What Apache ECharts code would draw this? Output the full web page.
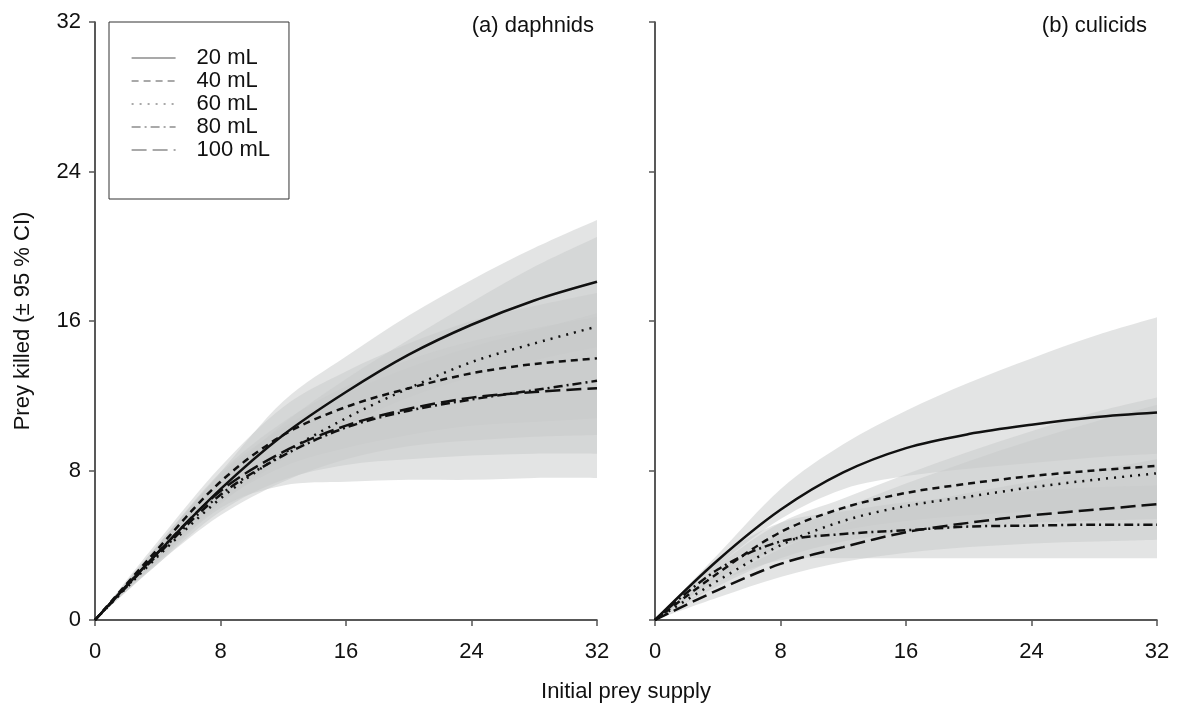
<!DOCTYPE html>
<html><head><meta charset="utf-8">
<script src="https://cdn.jsdelivr.net/npm/echarts/dist/echarts.min.js"></script>
<style>html,body{margin:0;padding:0;background:#fff}#c{width:1180px;height:711px}</style>
</head><body><div id="c"></div>
<script>
// ---- data ----
const xs = [0, 4, 8, 12, 16, 20, 24, 28, 32];
const names = ['20 mL', '40 mL', '60 mL', '80 mL', '100 mL'];
const xTicks = [0, 8, 16, 24, 32];

// (a) daphnids – fitted curves
const a20  = [0, 3.6, 7.0, 9.9, 12.2, 14.2, 15.8, 17.1, 18.1];
const a40  = [0, 3.8, 7.4, 9.9, 11.4, 12.4, 13.2, 13.7, 14.0];
const a60  = [0, 3.4, 6.5, 8.9, 10.8, 12.4, 13.8, 14.8, 15.7];
const a80  = [0, 3.5, 6.7, 8.8, 10.3, 11.2, 11.8, 12.3, 12.8];
const a100 = [0, 3.6, 6.9, 9.0, 10.4, 11.3, 11.9, 12.2, 12.4];
// (a) 95 % CI
const a20lo  = [0, 3.2, 6.2, 8.6, 10.4, 11.9, 13.0, 13.9, 14.6];
const a20hi  = [0, 4.0, 7.9, 11.7, 14.1, 16.3, 18.2, 19.9, 21.4];
const a40lo  = [0, 3.3, 6.3, 8.2, 9.2, 9.9, 10.4, 10.6, 10.8];
const a40hi  = [0, 4.2, 8.2, 11.4, 13.3, 14.8, 16.0, 16.8, 17.5];
const a60lo  = [0, 3.0, 5.6, 7.4, 8.6, 9.3, 9.6, 9.8, 9.9];
const a60hi  = [0, 3.8, 7.5, 10.5, 12.9, 15.0, 17.0, 18.9, 20.5];
const a80lo  = [0, 3.0, 5.8, 7.5, 8.3, 8.6, 8.8, 8.9, 8.9];
const a80hi  = [0, 4.0, 7.8, 10.3, 12.1, 13.5, 14.6, 15.5, 16.4];
const a100lo = [0, 3.1, 6.0, 7.2, 7.4, 7.5, 7.5, 7.6, 7.6];
const a100hi = [0, 4.0, 7.9, 10.6, 12.5, 13.9, 14.9, 15.6, 16.2];

// (b) culicids – fitted curves
const b20  = [0, 3.2, 5.9, 7.9, 9.2, 9.95, 10.45, 10.85, 11.1];
const b40  = [0, 2.5, 4.7, 6.0, 6.8, 7.3, 7.7, 8.0, 8.25];
const b60  = [0, 2.1, 4.0, 5.3, 6.1, 6.6, 7.1, 7.5, 7.85];
const b80  = [0, 2.7, 4.2, 4.6, 4.8, 5.0, 5.05, 5.1, 5.1];
const b100 = [0, 1.6, 3.0, 3.9, 4.7, 5.2, 5.6, 5.9, 6.2];
// (b) 95 % CI
const b20lo  = [0, 2.9, 5.4, 7.0, 7.7, 8.1, 8.4, 8.7, 8.9];
const b20hi  = [0, 3.5, 7.0, 9.4, 11.2, 12.7, 14.0, 15.2, 16.2];
const b40lo  = [0, 2.2, 3.9, 4.8, 5.3, 5.6, 5.8, 5.9, 6.0];
const b40hi  = [0, 2.9, 5.2, 6.5, 7.8, 9.0, 10.1, 11.1, 11.9];
const b60lo  = [0, 1.8, 3.3, 4.2, 4.7, 5.0, 5.2, 5.3, 5.4];
const b60hi  = [0, 2.5, 4.6, 6.0, 7.3, 8.5, 9.6, 10.6, 11.5];
const b80lo  = [0, 2.0, 3.2, 3.3, 3.3, 3.3, 3.3, 3.3, 3.3];
const b80hi  = [0, 3.3, 5.2, 5.8, 6.3, 6.6, 6.9, 7.1, 7.2];
const b100lo = [0, 1.2, 2.3, 3.1, 3.6, 3.9, 4.1, 4.2, 4.3];
const b100hi = [0, 2.0, 3.8, 5.1, 6.1, 6.8, 7.4, 8.0, 8.6];

// ---- chart ----
const FONT = 'Liberation Sans, Arial, Helvetica, sans-serif';
const dashTypes = ['solid', [7, 5], [2, 6], [9, 4, 2, 4], [15, 6]];
const bandFill = 'rgba(200,202,202,0.5)';

const panels = [
  { curves: [a20, a40, a60, a80, a100], lo: [a20lo, a40lo, a60lo, a80lo, a100lo], hi: [a20hi, a40hi, a60hi, a80hi, a100hi] },
  { curves: [b20, b40, b60, b80, b100], lo: [b20lo, b40lo, b60lo, b80lo, b100lo], hi: [b20hi, b40hi, b60hi, b80hi, b100hi] }
];

// Catmull-Rom through screen points -> cubic bezier path segments
function smoothSegs(pts) {
  let s = '';
  for (let i = 0; i < pts.length - 1; i++) {
    const p0 = pts[i - 1] || pts[i], p1 = pts[i], p2 = pts[i + 1], p3 = pts[i + 2] || pts[i + 1];
    const c1 = [p1[0] + (p2[0] - p0[0]) / 6, p1[1] + (p2[1] - p0[1]) / 6];
    const c2 = [p2[0] - (p3[0] - p1[0]) / 6, p2[1] - (p3[1] - p1[1]) / 6];
    s += 'C' + c1[0] + ',' + c1[1] + ' ' + c2[0] + ',' + c2[1] + ' ' + p2[0] + ',' + p2[1];
  }
  return s;
}

const series = [];
panels.forEach((p, g) => {
  series.push({
    type: 'custom', name: 'ci' + g, xAxisIndex: g, yAxisIndex: g, silent: true, z: 1,
    data: p.lo.map((_, k) => [k, 0]),
    renderItem: function (params, api) {
      const k = params.dataIndex;
      const lo = p.lo[k], hi = p.hi[k];
      const up = xs.map((x, i) => api.coord([x, hi[i]]));
      const dn = xs.map((x, i) => api.coord([x, lo[i]])).reverse();
      const d = 'M' + up[0][0] + ',' + up[0][1] + smoothSegs(up) +
                'L' + dn[0][0] + ',' + dn[0][1] + smoothSegs(dn) + 'Z';
      return { type: 'path', shape: { pathData: d }, style: { fill: bandFill, stroke: null } };
    }
  });
});
panels.forEach((p, g) => {
  p.curves.forEach((c, k) => {
    series.push({
      type: 'line', name: names[k], xAxisIndex: g, yAxisIndex: g,
      data: xs.map((x, i) => [x, c[i]]), smooth: 0.33, symbol: 'none', showSymbol: false,
      lineStyle: { color: '#111', width: 2.5, type: dashTypes[k] },
      itemStyle: { color: '#111' }, z: 5
    });
  });
});

function xAxisCfg(g) {
  return {
    gridIndex: g, type: 'value', min: 0, max: 32, interval: 8,
    axisLine: { show: true, onZero: false, lineStyle: { color: '#222', width: 1.5 } },
    axisTick: { show: true, length: 6, lineStyle: { color: '#555', width: 1.5 } },
    axisLabel: { fontSize: 22, color: '#111', margin: 21, fontFamily: FONT },
    splitLine: { show: false }
  };
}
function yAxisCfg(g) {
  return {
    gridIndex: g, type: 'value', min: 0, max: 32, interval: 8,
    axisLine: { show: true, onZero: false, lineStyle: { color: '#222', width: 1.5 } },
    axisTick: { show: true, length: 6, lineStyle: { color: '#555', width: 1.5 } },
    axisLabel: { show: g === 0, fontSize: 22, color: '#111', margin: 14, fontFamily: FONT },
    splitLine: { show: false }
  };
}

const option = {
  animation: false,
  backgroundColor: '#fff',
  grid: [
    { left: 95, right: 583, top: 22, bottom: 91 },
    { left: 655, right: 23, top: 22, bottom: 91 }
  ],
  xAxis: [xAxisCfg(0), xAxisCfg(1)],
  yAxis: [yAxisCfg(0), yAxisCfg(1)],
  title: [
    { text: '(a) daphnids', right: 581, top: 10, textStyle: { fontSize: 22, fontWeight: 'normal', color: '#111', fontFamily: FONT } },
    { text: '(b) culicids', right: 28, top: 10, textStyle: { fontSize: 22, fontWeight: 'normal', color: '#111', fontFamily: FONT } }
  ],
  legend: {
    data: names, orient: 'vertical', left: 109, top: 22,
    padding: [25, 19, 38, 22], itemGap: 1, itemWidth: 44, itemHeight: 16,
    borderColor: '#333', borderWidth: 1, backgroundColor: '#fff',
    lineStyle: { width: 1.2, color: '#555' },
    itemStyle: { opacity: 0, color: 'rgba(0,0,0,0)', borderWidth: 0 },
    textStyle: { fontSize: 22, color: '#111', fontFamily: FONT, padding: [0, 0, 0, 16], lineHeight: 20 },
    selectedMode: false
  },
  graphic: [
    { type: 'text', x: 626, y: 692, style: { text: 'Initial prey supply', font: '22px ' + FONT, fill: '#111', align: 'center', verticalAlign: 'middle' } },
    { type: 'text', x: 23, y: 321, rotation: Math.PI / 2, style: { text: 'Prey killed (± 95 % CI)', font: '22px ' + FONT, fill: '#111', align: 'center', verticalAlign: 'middle' } }
  ],
  series: series
};

const chart = echarts.init(document.getElementById('c'), null, { renderer: 'canvas' });
chart.setOption(option);
</script>
</body></html>
